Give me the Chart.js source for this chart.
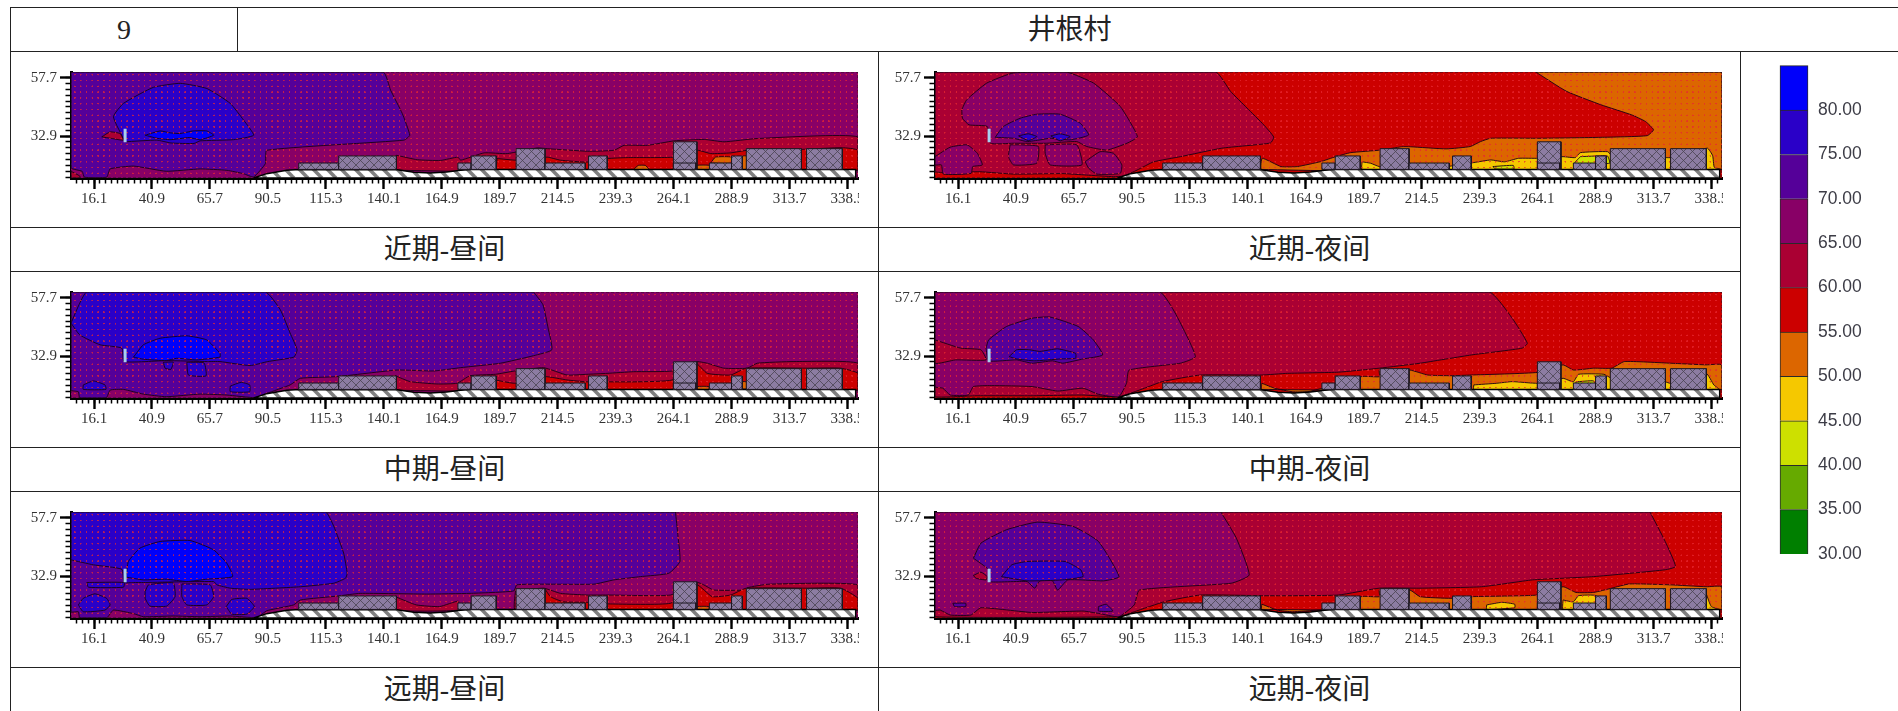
<!DOCTYPE html>
<html>
<head>
<meta charset="utf-8">
<title>井根村</title>
<script src="https://cdn.jsdelivr.net/npm/chart.js@4"></script>
<style>
  html, body { margin: 0; padding: 0; background: #fff; overflow: hidden; width: 1898px; height: 711px; }
  table { position: absolute; left: 10px; top: 7px; border-collapse: collapse; table-layout: fixed; width: 1891px; }
  td { border: 1.4px solid #222; padding: 0; text-align: center; color: #222;
       font: 28px "Liberation Serif", "Noto Sans CJK SC", serif; line-height: 40px; }
  tr.label { height: 44px; }
  tr.plot { height: 176px; }
  canvas { position: absolute; display: block; filter: blur(0.4px); }
</style>
</head>
<body>
<table>
  <colgroup><col style="width:227px"><col style="width:641px"><col style="width:862px"><col style="width:161px"></colgroup>
  <tr class="label"><td>9</td><td colspan="3">井根村</td></tr>
  <tr class="plot"><td colspan="2"></td><td></td><td rowspan="6"></td></tr>
  <tr class="label"><td colspan="2">近期-昼间</td><td>近期-夜间</td></tr>
  <tr class="plot"><td colspan="2"></td><td></td></tr>
  <tr class="label"><td colspan="2">中期-昼间</td><td>中期-夜间</td></tr>
  <tr class="plot"><td colspan="2"></td><td></td></tr>
  <tr class="label"><td colspan="2">远期-昼间</td><td>远期-夜间</td></tr>
</table>
<script>
// axis values
const xMajor = [16.1, 40.9, 65.7, 90.5, 115.3, 140.1, 164.9, 189.7, 214.5, 239.3, 264.1, 288.9, 313.7, 338.5];
const yMajor = [57.7, 32.9];
const minorStep = 2.48;
const xMin = 6.25, xMax = 343, yMin = 15.15, yMax = 60.1;

// colour scale
const legendLevels = [30, 35, 40, 45, 50, 55, 60, 65, 70, 75, 80, 85];
const bandColors = ["#007f00", "#66aa00", "#cde000", "#f5c800", "#dc6600", "#cc0000", "#aa0033", "#880066", "#550099", "#2a00c8", "#0000fa"];

// site, same in all panels
const field = [[6.25, 60.1], [343, 60.1], [343, 15.15], [6.25, 15.15]];
const ground = [[84.4, 15.15], [90, 17], [98.6, 18.4], [104, 18.8], [145.8, 18.6], [153, 17.6], [160, 17.3], [167, 17.7], [173, 18.4], [177.5, 18.8], [342, 18.8], [342, 15.15]];
const buildingLeft = [103.7, 120.8, 171.8, 177.5, 196.7, 209.1, 227.7, 264, 264, 279.4, 288.9, 295.2, 321];
const buildingRight = [120.8, 145.5, 177.5, 188.2, 209.1, 226.3, 235.7, 274.1, 273.6, 288.9, 293.5, 318.8, 336.3];
const buildingTop = [21.5, 24.5, 21.5, 24.5, 27.6, 21.5, 24.5, 30.5, 21.5, 21.5, 24.5, 27.6, 27.6];
const buildingBase = 18.8;
const sourceMark = [[29.4, 36], [29.4, 30.3]];

// near term, day
const nearDay70 = [[6.25, 60.1], [139.8, 60.1], [143, 52.4], [148, 42.5], [151.2, 33.3], [148.7, 31.2], [90, 26.9], [89.4, 21.2], [84.4, 15.6], [80, 17], [73, 18.4], [61.5, 19], [47, 18], [33, 20.2], [23, 19], [21.5, 15.5], [12, 15.5], [11, 18], [6.25, 19.5]];
const nearDay75 = [[29.4, 30.5], [24.4, 41.1], [28.7, 46.8], [41.5, 53.6], [53, 55.3], [64.4, 53.1], [74.4, 46.8], [80.1, 39.7], [84.4, 33.3], [75.8, 31.4], [61.5, 30.9], [58.9, 29.8], [49, 30], [43, 31.2]];
const nearDay80 = [[38, 33.3], [44.4, 35.1], [48.7, 34.3], [52.9, 34], [58.6, 35.1], [64.3, 35.1], [67.3, 33.3], [61.6, 31.4], [56.8, 32.3], [48.7, 31.4], [43, 32]];
const nearDaySpot60 = [[19.4, 32.6], [23, 34.7], [27.2, 34], [28.7, 31.2], [23.7, 31.9]];
const nearDayCorner60 = [[6.25, 18], [10, 16], [10, 15.15], [6.25, 15.15]];
const nearDay60 = [[145.5, 24.8], [154.4, 22.9], [164.4, 22.6], [171.8, 24], [173, 22.7], [183, 25.8], [192.9, 25.5], [205.7, 27.9], [210, 27.6], [227.2, 26.5], [238.6, 26.9], [242.9, 29], [252.9, 29], [264.3, 30.9], [277.2, 31.5], [285.7, 30.5], [300, 31.9], [343, 32.6], [343, 18.5], [145.5, 18.5]];
const nearDay55 = [[188.6, 23.4], [197, 22.7], [210, 24], [215.7, 22.7], [227, 21.9], [235.7, 23.4], [244.2, 23.8], [264.3, 24], [274.3, 26.9], [280, 25.5], [288.5, 25.8], [295.7, 26.9], [318.8, 27.3], [336.3, 28], [343, 26.9], [343, 18.5], [188.6, 18.5]];
const nearDay50a = [[280, 21.5], [282, 24], [289, 24], [289, 21.5]];
const nearDay50b = [[293.5, 24.5], [295.2, 24.5], [295.2, 18.8], [293.5, 18.8]];
const nearDay50c = [[247, 18.8], [249, 20.5], [252, 20.5], [253.5, 18.8]];
const nearDay50d = [[274, 18.8], [274, 20.5], [279.4, 20.5], [279.4, 18.8]];

// near term, night
const nearNight60 = [[6.25, 60.1], [126.3, 60.1], [132.7, 51.9], [139.8, 44.8], [146.9, 37.7], [151.2, 32.5], [149.8, 30], [129, 27.8], [111.3, 24.2], [99.8, 22], [92.7, 18.5], [87, 16], [82.7, 15.7], [71, 16.4], [61, 17], [39.8, 16.8], [25.5, 17.8], [10, 17.5], [6.25, 18]];
const nearNight65a = [[17.7, 44.1], [19.8, 48.3], [28.4, 55.4], [39.8, 59.7], [62.7, 60], [74.1, 55.4], [85.5, 45.5], [92.9, 32.7], [88.4, 29.9], [79.8, 27], [71.2, 28.5], [66.9, 30.6], [54, 29.9], [39.8, 29.9], [30, 29.9], [28.6, 37], [20.8, 37.7], [18, 40.5]];
const nearNight65b = [[6.25, 24.2], [12.7, 28.2], [20, 29.2], [24.4, 25.6], [26.5, 20.7], [22.4, 20], [21.7, 17.1], [9.8, 16.8], [9, 20.7], [6.25, 20.7]];
const nearNight65c = [[38.4, 29.2], [42.7, 29.2], [50.5, 28.5], [49.8, 21.4], [39.8, 20.7], [37.7, 24.2]];
const nearNight65d = [[53.4, 29.2], [66.9, 29.2], [69.1, 20.7], [55.5, 20.7], [53.4, 25.6]];
const nearNight65e = [[70.5, 22.1], [76.9, 26.3], [82.7, 25.6], [86.2, 20.7], [85.5, 17.1], [75.5, 16.8], [72, 19.3]];
const nearNight70 = [[32, 32.4], [35.5, 37], [42.7, 40.5], [49.8, 42.2], [59.8, 42.2], [68.4, 38.4], [72, 33.4], [64, 31.3], [55.5, 32], [51.2, 31.3], [45.5, 30.6], [39.8, 32]];
const nearNight75a = [[42, 33], [46.2, 33.9], [49.8, 32.7], [46.2, 31]];
const nearNight75b = [[55.8, 33], [59.8, 33.9], [64.1, 32.7], [59.8, 30.9]];
const nearNight50 = [[263.3, 60.1], [343, 60.1], [343, 18.8], [146, 18.8], [146.3, 23.5], [154.3, 20], [161.3, 20], [171.3, 22.1], [177.7, 24.2], [184.1, 25.9], [197.1, 27], [206, 28.4], [209.6, 28.4], [225, 27.5], [235.3, 28.5], [239.7, 30.6], [244.1, 32], [264.7, 32], [291.2, 32.4], [311, 33.1], [313.7, 35.6], [310.3, 39.1], [304.4, 41.9], [291.2, 46.2], [276.5, 51.9]];
const nearNight45 = [[189, 22], [192.7, 21.4], [196.4, 20], [225, 20], [236.8, 21.7], [244.1, 22.8], [250, 22], [255.9, 23.5], [264.3, 23.5], [275, 24.2], [280.2, 23.8], [282.4, 25.9], [294.1, 26.3], [296.3, 24.2], [319.1, 23.8], [321.3, 23.8], [336.7, 27.8], [339, 24.6], [339.7, 19.7], [342.6, 18.8], [189, 18.8]];
const nearNight40a = [[282.4, 24.2], [289.7, 24.5], [294, 24.5], [294.9, 21.4], [280, 21.4]];
const nearNight40b = [[245, 20], [253.7, 20.5], [254, 19], [246, 19]];

// mid term, day
const midDay70 = [[204.2, 60.1], [208.2, 54.7], [210.4, 44.8], [212, 35.6], [204.2, 33.1], [190, 29.9], [172.8, 28], [161.5, 26.6], [145.8, 27], [120, 24.2], [104.4, 23.5], [100, 20.7], [90, 17.1], [85, 15.3], [73, 16.4], [61.5, 16.8], [47, 15.7], [37.2, 16.8], [28.7, 18.8], [23, 18.5], [21.3, 15.2], [10, 15.2], [9.4, 17.8], [6.25, 18.5], [6.25, 60.1]];
const midDay75 = [[6.25, 46.9], [10, 55.4], [13, 60.1], [89.4, 60.1], [95.8, 52.6], [100, 42.7], [103, 35.6], [101.6, 32.5], [90.4, 30.6], [82.9, 28.9], [70, 30.6], [64.7, 30.6], [47.2, 31], [29, 30.6], [28, 36.3], [18.7, 37.7], [10, 41.9]];
const midDay75a = [[45.8, 30.3], [50, 30.3], [49, 27.3], [46.5, 27.8]];
const midDay75b = [[55.8, 30.3], [63.2, 30], [64, 24.5], [56.5, 24.9]];
const midDay75c = [[11.5, 20.7], [15.8, 22.4], [20.8, 20.7], [21.2, 18.8], [11.5, 18.8]];
const midDay75d = [[74.4, 20.2], [79, 21.8], [82.7, 20.7], [82.7, 17.8], [74.4, 17.8]];
const midDay80 = [[33, 32.5], [37.2, 37.7], [44.4, 40.5], [55.8, 41.5], [64.3, 39.8], [70, 34.1], [70, 32.5], [60, 31.3], [51.5, 32], [47, 31], [37.2, 31.6]];
const midDay60 = [[145, 24.6], [151.4, 22.1], [162.8, 21.1], [171.4, 21.4], [177, 24.6], [187.8, 25.2], [196.1, 26.6], [208.5, 28], [218.5, 24.9], [227, 25.2], [235.6, 25.6], [247, 26.3], [263.5, 26.6], [273.5, 30.6], [278.5, 29.9], [285.6, 27.8], [295.6, 27.8], [299.9, 29.9], [315.6, 30.6], [343, 29.9], [343, 18.5], [145, 18.5]];
const midDay55 = [[187.8, 22.8], [196.1, 21.4], [209.2, 24.2], [218.5, 22.8], [227, 22], [235.6, 22], [248.5, 22], [263.5, 22.8], [273.5, 29.9], [278.5, 25.6], [288.5, 24.9], [295.2, 27.8], [321.3, 27.8], [335.6, 27.8], [343, 25.6], [343, 18.5], [187.8, 18.5]];
const midDay50a = [[274.2, 18.8], [274.2, 20], [279.2, 20], [279.2, 18.8]];
const midDay50b = [[293.5, 19], [293.5, 22], [295.2, 22], [295.2, 19]];

// mid term, night
const midNight60 = [[6.25, 60.1], [243.3, 60.1], [253.2, 49], [259.7, 38.4], [257.5, 36.3], [235.7, 33.4], [213.8, 29.9], [196.4, 27.8], [178.9, 26.1], [157, 25.6], [146.1, 24.9], [119.9, 24.9], [103.5, 22.1], [95.9, 19.3], [84.9, 15.7], [69.6, 16.4], [47.8, 16.1], [23.8, 16.1], [6.25, 15.7]];
const midNight65 = [[6.25, 60.1], [102.4, 60.1], [109, 51.2], [117.7, 32.7], [111.2, 29.9], [89.3, 27], [88.2, 21.4], [84.9, 15.7], [76.2, 16.7], [69.6, 19.3], [58.7, 18.1], [47.8, 20], [30.3, 20.4], [22.7, 20], [20.5, 16.4], [12.8, 16.4], [9.6, 19.3], [6.25, 20]];
const midNightWedge60 = [[6.25, 39.8], [17.2, 36.3], [25.9, 35.6], [28.1, 31.3], [15, 31.3], [6.25, 29.9]];
const midNight70 = [[28.1, 36.3], [29.2, 39.8], [36.9, 45.5], [47.8, 49], [55.4, 49.5], [67.5, 45.5], [74, 39.8], [78, 33.4], [69.6, 31.7], [60.9, 29.9], [56.5, 30.9], [47.8, 29.9], [41.2, 31.3], [29.2, 30.9]];
const midNight75 = [[38, 32.7], [41.2, 35.6], [46.7, 35.6], [51.1, 34.9], [58.7, 36], [66.4, 34.1], [66.4, 32], [59.8, 31.7], [48.9, 30.9], [41.2, 31.7]];
const midNight50 = [[146.1, 21.4], [151.6, 19.3], [159.2, 17.8], [165.8, 17.8], [172.3, 19.3], [185, 19.5], [188.7, 24.2], [196.4, 24.2], [196.4, 27], [209.5, 27], [217.1, 24.9], [227, 24.6], [235.7, 24.9], [264.1, 26], [275, 29.2], [279.4, 27], [288.1, 27.8], [295.8, 27.8], [301.2, 30.6], [320.9, 29.9], [336.2, 29.2], [343, 29.2], [343, 18.8], [146.1, 18.8]];
const midNight45 = [[236.8, 20.7], [246.6, 21.4], [253.2, 22.1], [264.1, 21.4], [275, 23.5], [279.4, 22], [281.6, 25.2], [292.5, 25.2], [295.8, 23.5], [318.7, 22], [320.9, 21.4], [336.2, 25.6], [339.5, 20.7], [341.7, 18.8], [236.8, 18.8]];
const midNight40 = [[280.5, 22], [288, 22.4], [289.2, 20], [280.5, 20]];

// far term, day
const farDay70 = [[264.9, 60.1], [265.9, 50.5], [266.8, 39.1], [262, 34.1], [249.9, 32.7], [238.5, 31.3], [230, 29.5], [208.5, 29.5], [197, 29.2], [195.7, 26.6], [177, 25.6], [158.5, 25.3], [130, 25.6], [120.8, 24.5], [104.4, 22.8], [101.5, 20.7], [90, 18.2], [85.8, 15.3], [74.4, 16], [61.5, 15.7], [50, 16], [37.2, 15.7], [33, 17], [24.4, 18.5], [21.5, 15.2], [10, 15.2], [9.4, 17.8], [6.25, 17.8], [6.25, 60.1]];
const farDay75 = [[6.25, 39.8], [15.8, 37.7], [28, 35.8], [29, 30.2], [33, 30.2], [37.2, 30.2], [67.3, 30.6], [68.7, 29.2], [74.4, 27.8], [82.9, 27.3], [104.4, 28.4], [118.7, 29.9], [123.7, 32], [124.4, 34.1], [122.9, 42.7], [118.7, 54], [115.1, 60.1], [6.25, 60.1]];
const farDay75a = [[13, 30.2], [29, 30.2], [28.7, 28.2], [13.7, 28.2]];
const farDay75b = [[9.4, 20.7], [11.5, 23.5], [16.5, 25.4], [21.5, 23.5], [23, 20.7], [20.8, 18.5], [11.5, 17.8]];
const farDay75c = [[38, 26.4], [39.4, 29.2], [50, 30], [50.8, 24.2], [47.2, 20.2], [40, 20.2], [38, 23.5]];
const farDay75d = [[53.7, 29.6], [65.8, 29.2], [67.3, 24.2], [64.4, 20.7], [55.8, 20.7], [53.7, 24.2]];
const farDay75e = [[72.7, 20], [75, 23], [81.5, 23.5], [84.7, 20], [81.5, 16.8], [75, 16.8]];
const farDay80 = [[29.8, 32.5], [30.8, 39.1], [35.8, 44.8], [44.4, 47.6], [57.2, 48], [67.2, 44.1], [72.9, 38.4], [75.4, 32.7], [64.4, 31.6], [55.8, 30.6], [47, 31.6], [37.2, 31.3]];
const farDay60a = [[145.5, 24], [154, 20.7], [164, 20], [172, 22.3], [172, 18.5], [145.5, 18.5]];
const farDay60b = [[196.4, 26.6], [208.5, 27.8], [215.7, 25.6], [227, 24.9], [235.6, 24.9], [262.8, 24.9], [274, 30.3], [277, 29.2], [281.3, 27], [294.9, 27], [295.6, 28], [304.9, 29.5], [343, 29.2], [343, 18.5], [196.4, 18.5]];
const farDay55 = [[209, 27.6], [211.4, 24.2], [217, 22], [227, 21.8], [237, 21.1], [262.8, 21.4], [274, 29.2], [280.6, 24.2], [288.5, 24.9], [295.2, 27.8], [321.3, 27.8], [335.6, 27.8], [343, 23.5], [343, 18.5], [209, 18.5]];
const farDay50 = [[274.2, 18.8], [274.2, 20], [279.2, 20], [279.2, 18.8]];

// far term, night
const farNight60 = [[312.2, 60.1], [318.7, 47.6], [323.1, 37], [318.7, 35.6], [288.1, 32.7], [261.9, 31.3], [240.1, 28.4], [213.8, 27.8], [196.4, 27.8], [178.9, 24.9], [157, 24.6], [146.1, 24.6], [119.9, 24.9], [104.6, 22.1], [91.5, 17.8], [84.9, 15.7], [6.25, 15.7], [6.25, 60.1]];
const farNight65 = [[128.6, 60.1], [135.2, 49], [140.7, 33.4], [133, 29.9], [93.7, 27], [91.5, 20.7], [84.9, 15.7], [76.2, 17.1], [69.6, 18.1], [47.8, 17.5], [25.9, 19.5], [21.6, 16.4], [12.8, 16.4], [8.5, 18.5], [6.25, 18.5], [6.25, 60.1]];
const farNightSpot60 = [[22.7, 33.2], [25.9, 34.6], [28.6, 32.7], [28.1, 31.3], [23.8, 32]];
const farNight70 = [[22.7, 40.5], [25.9, 46.9], [36.9, 52.6], [50, 55.8], [65.3, 54], [76.2, 47.6], [85, 32.7], [78.4, 30.9], [63.1, 31.3], [58.7, 27], [56.5, 30.9], [51.1, 30.9], [48.9, 27.8], [45.6, 30.6], [29.2, 30.6], [29.2, 35.6]];
const farNight70a = [[13.9, 21.4], [19.4, 21.4], [19.4, 20], [14.6, 20]];
const farNight70b = [[76.2, 20], [79.5, 21], [82.3, 18.1], [76.2, 18.1]];
const farNight75 = [[34.7, 32.7], [39.1, 37.7], [45.6, 39.1], [62, 39.1], [68.6, 35.6], [69.6, 32.7], [60.9, 31.3], [45.6, 30.9]];
const farNight50 = [[146.1, 21], [152.7, 18.5], [159.2, 17.8], [170.2, 18.5], [185, 19.5], [188.7, 24.2], [196.4, 24.2], [196.4, 27], [209.5, 27], [213.8, 24.2], [227, 23.5], [235.7, 24.2], [264.1, 24.9], [275, 28.4], [280.5, 26], [288.1, 26], [295.8, 27.8], [303.4, 29.6], [320.9, 29.2], [336.2, 28.4], [343, 28.4], [343, 18.8], [146.1, 18.8]];
const farNight45a = [[242.3, 20.7], [248.8, 21.8], [254.3, 21], [254.3, 19.5], [242.3, 18.8]];
const farNight45b = [[275, 22.8], [279.4, 22], [281.6, 24.6], [289.2, 24.6], [289.2, 19.3], [275, 18.8]];
const farNight45c = [[336.2, 25.6], [338.4, 20], [341.7, 18.8], [336.2, 18.8]];

// panels: [base level, then [level, contour] from bottom to top]
const panels = [
  { left: 0, top: 72, base: 65, layers: [[60, nearDayCorner60], [70, nearDay70], [75, nearDay75], [80, nearDay80], [60, nearDaySpot60], [60, nearDay60], [55, nearDay55], [50, nearDay50a], [50, nearDay50b], [50, nearDay50c], [50, nearDay50d]] },
  { left: 864, top: 72, base: 55, layers: [[60, nearNight60], [65, nearNight65a], [65, nearNight65b], [65, nearNight65c], [65, nearNight65d], [65, nearNight65e], [70, nearNight70], [75, nearNight75a], [75, nearNight75b], [50, nearNight50], [45, nearNight45], [40, nearNight40a], [40, nearNight40b]] },
  { left: 0, top: 292, base: 65, layers: [[70, midDay70], [75, midDay75], [75, midDay75a], [75, midDay75b], [75, midDay75c], [75, midDay75d], [80, midDay80], [60, midDay60], [55, midDay55], [50, midDay50a], [50, midDay50b]] },
  { left: 864, top: 292, base: 55, layers: [[60, midNight60], [65, midNight65], [60, midNightWedge60], [70, midNight70], [75, midNight75], [50, midNight50], [45, midNight45], [40, midNight40]] },
  { left: 0, top: 512, base: 65, layers: [[70, farDay70], [75, farDay75], [75, farDay75a], [75, farDay75b], [75, farDay75c], [75, farDay75d], [75, farDay75e], [80, farDay80], [60, farDay60a], [60, farDay60b], [55, farDay55], [50, farDay50]] },
  { left: 864, top: 512, base: 55, layers: [[60, farNight60], [65, farNight65], [60, farNightSpot60], [70, farNight70], [70, farNight70a], [70, farNight70b], [75, farNight75], [50, farNight50], [45, farNight45a], [45, farNight45b], [45, farNight45c]] },
];

function bandColor(level) {
  return bandColors[legendLevels.indexOf(level)];
}

function makeCanvas(left, top, width, height) {
  const canvas = document.createElement("canvas");
  canvas.width = width;
  canvas.height = height;
  canvas.style.left = left + "px";
  canvas.style.top = top + "px";
  canvas.style.width = width + "px";
  canvas.style.height = height + "px";
  document.body.appendChild(canvas);
  return canvas;
}

function tile(size, draw) {
  const c = document.createElement("canvas");
  c.width = size;
  c.height = size;
  draw(c.getContext("2d"));
  return c;
}

// calculation grid dots, 5.8px apart
function dotsPattern(ctx) {
  const t = tile(29, (g) => {
    g.fillStyle = "rgba(232, 40, 50, 0.75)";
    g.beginPath();
    g.arc(14.5, 14.5, 4.2, 0, Math.PI * 2);
    g.fill();
  });
  const p = ctx.createPattern(t, "repeat");
  p.setTransform(new DOMMatrix().scale(0.2));
  return p;
}

function hatchPattern(ctx) {
  const t = tile(14, (g) => {
    g.fillStyle = "#fff";
    g.fillRect(0, 0, 14, 14);
    g.strokeStyle = "#808080";
    g.lineWidth = 3.6;
    [-14, 0, 14].forEach((d) => {
      g.beginPath();
      g.moveTo(d, 0);
      g.lineTo(d + 14, 14);
      g.stroke();
    });
  });
  return ctx.createPattern(t, "repeat");
}

function crossPattern(ctx) {
  const t = tile(9, (g) => {
    g.fillStyle = "#8c7ca2";
    g.fillRect(0, 0, 9, 9);
    g.strokeStyle = "#4a4452";
    g.lineWidth = 0.8;
    g.beginPath();
    g.moveTo(0, 0);
    g.lineTo(9, 9);
    g.moveTo(9, 0);
    g.lineTo(0, 9);
    g.stroke();
  });
  return ctx.createPattern(t, "repeat");
}

function closed(points) {
  return points.concat([points[0]]).map((p) => ({ x: p[0], y: p[1] }));
}

function area(points, fillStyle, extra) {
  return Object.assign({
    data: closed(points),
    fill: "shape",
    backgroundColor: fillStyle,
    borderColor: "rgba(25, 0, 20, 0.9)",
    borderWidth: 1,
    pointRadius: 0,
    tension: 0.15,
  }, extra);
}

function buildDatasets(panel, ctx) {
  const sets = [area(field, bandColor(panel.base), { borderWidth: 0 })];
  panel.layers.forEach(([level, points]) => {
    sets.push(area(points, bandColor(level)));
  });
  sets.push(area(field, dotsPattern(ctx), { borderColor: "#2a1020", borderDash: [3, 2], tension: 0 }));
  sets.push({
    data: sourceMark.map((p) => ({ x: p[0], y: p[1] })),
    borderColor: "#a8cfee",
    borderWidth: 3,
    pointRadius: 0,
  });
  sets.push(area(ground, hatchPattern(ctx), { borderColor: "#000", borderWidth: 1.5, tension: 0 }));
  buildingLeft.forEach((x0, i) => {
    const x1 = buildingRight[i];
    const rect = [[x0, buildingBase], [x0, buildingTop[i]], [x1, buildingTop[i]], [x1, buildingBase]];
    sets.push(area(rect, crossPattern(ctx), { borderColor: "#1c1620", tension: 0 }));
  });
  // first dataset has to paint first
  sets.forEach((s, i) => { s.order = sets.length - i; });
  return sets;
}

function minorValues(start, stop, step) {
  const values = [];
  for (let v = start; step > 0 ? v < stop : v > stop; v += step) values.push(v);
  return values;
}

function noPadding(scale) {
  scale.paddingLeft = 0;
  scale.paddingRight = 0;
  scale.paddingTop = 0;
  scale.paddingBottom = 0;
}

function tickAxis(axis, position, min, max, values, isMajor) {
  const size = isMajor ? (axis === "x" ? 38 : 57) : 0;
  return {
    type: "linear",
    axis: axis,
    position: position,
    min: min,
    max: max,
    bounds: "data",
    weight: isMajor ? 1 : 0,
    border: { display: true, color: "#000", width: 3 },
    grid: {
      drawOnChartArea: false,
      drawTicks: true,
      tickLength: isMajor ? 11 : 5.5,
      tickWidth: isMajor ? 2.4 : 1.5,
      tickColor: "#000",
    },
    ticks: {
      display: isMajor,
      autoSkip: false,
      maxRotation: 0,
      minRotation: 0,
      padding: axis === "x" ? 1 : 3,
      color: "#333",
      font: { family: '"Liberation Serif", serif', size: 15 },
      callback: (v) => v.toFixed(1),
    },
    afterBuildTicks(scale) {
      scale.ticks = values.map((v) => ({ value: v }));
    },
    afterFit(scale) {
      if (axis === "x") scale.height = size;
      else scale.width = size;
      noPadding(scale);
    },
  };
}

panels.forEach((panel) => {
  const canvas = makeCanvas(14 + panel.left, panel.top - 6, 845, 150);
  const ctx = canvas.getContext("2d");
  new Chart(ctx, {
    type: "line",
    data: { datasets: buildDatasets(panel, ctx) },
    options: {
      responsive: false,
      animation: false,
      events: [],
      layout: { padding: { top: 6, right: 1, left: 0, bottom: 0 } },
      plugins: { legend: { display: false }, tooltip: { enabled: false } },
      scales: {
        x: tickAxis("x", "bottom", xMin, xMax, xMajor, true),
        x2: tickAxis("x", "bottom", xMin, xMax, minorValues(8.66, xMax, minorStep), false),
        y: tickAxis("y", "left", yMin, yMax, yMajor, true),
        y2: tickAxis("y", "left", yMin, yMax, minorValues(57.7, yMin, -minorStep), false),
      },
    },
  });
});

// colour scale
const legendCanvas = makeCanvas(1779, 55, 110, 515);
new Chart(legendCanvas.getContext("2d"), {
  type: "bar",
  data: {
    labels: ["dB"],
    datasets: bandColors.map((color, i) => ({
      data: [[legendLevels[i], legendLevels[i + 1]]],
      backgroundColor: color,
      borderColor: "#2a2a2a",
      borderWidth: 1,
      grouped: false,
      barPercentage: 1,
      categoryPercentage: 1,
      clip: false,
    })),
  },
  options: {
    responsive: false,
    animation: false,
    events: [],
    layout: { padding: { top: 10.7, bottom: 16, left: 1, right: 0 } },
    plugins: { legend: { display: false }, tooltip: { enabled: false } },
    scales: {
      x: { display: false },
      y: {
        position: "right",
        min: 30,
        max: 85,
        bounds: "data",
        border: { display: false },
        grid: { display: false },
        ticks: {
          autoSkip: false,
          padding: 2,
          color: "#3c3c46",
          font: { family: '"Liberation Sans", sans-serif', size: 17.5 },
          callback: (v) => (v === 85 ? "" : v.toFixed(2)),
        },
        afterBuildTicks(scale) {
          scale.ticks = legendLevels.map((v) => ({ value: v }));
        },
        afterFit(scale) {
          scale.width = 81;
          noPadding(scale);
        },
      },
    },
  },
});
</script>
</body>
</html>
